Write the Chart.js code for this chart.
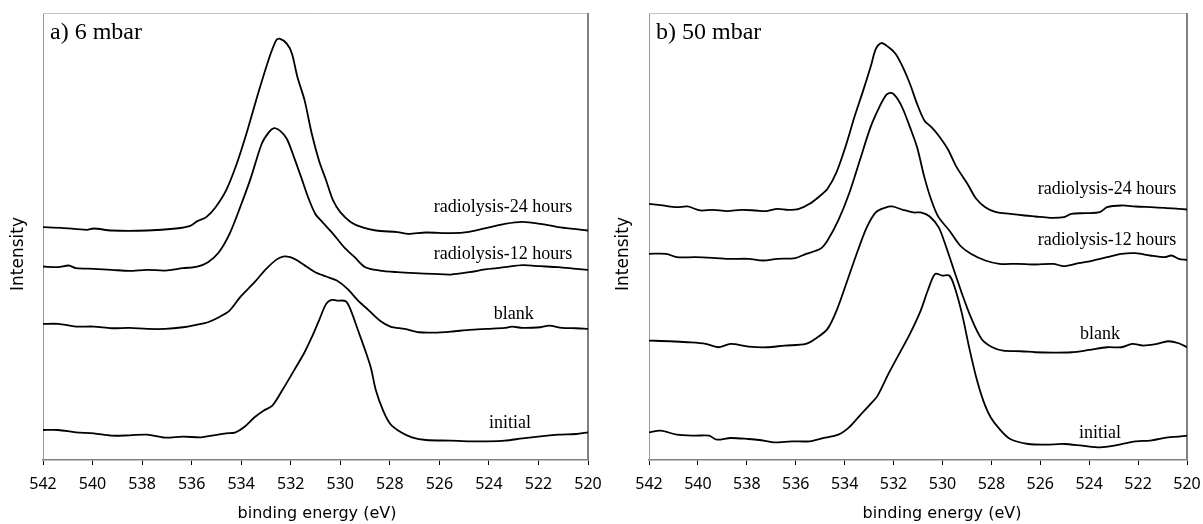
<!DOCTYPE html>
<html><head><meta charset="utf-8">
<script src="https://cdn.jsdelivr.net/npm/chart.js@4/dist/chart.umd.min.js"></script>
<style>
html,body{margin:0;padding:0;background:#fff;overflow:hidden;width:1203px;height:524px;position:relative;}
canvas{position:absolute;top:0;}
#c1{left:0px}
#c2{left:600px}
</style></head><body>
<canvas id="c1" width="620" height="524"></canvas>
<canvas id="c2" width="620" height="524"></canvas>
<script>
// ---------- tick labels (binding energy, eV) ----------
const xTickValues = [542,540,538,536,534,532,530,528,526,524,522,520];

// ---------- panel a) 6 mbar ----------
const a_rad24_eV = [542.00,541.25,540.24,539.95,539.23,537.79,536.63,536.06,535.77,535.41,535.05,534.61,534.18,533.75,533.32,532.88,532.59,532.45,532.16,531.95,531.73,531.44,531.15,530.86,530.57,530.29,530.00,529.57,529.13,528.56,527.69,527.26,526.54,525.53,524.80,524.08,523.36,522.64,521.92,521.20,520.48,520.00];
const a_rad24_I  = [698,696,690,694,688,688,694,702,716,728,756,808,888,988,1098,1203,1258,1263,1248,1218,1148,1078,978,898,838,778,743,713,698,688,683,678,682,680,684,696,708,714,708,698,692,688];

const a_rad12_eV = [542.00,541.39,540.96,540.67,539.95,539.23,538.51,537.79,537.07,536.35,535.77,535.34,534.90,534.47,534.04,533.60,533.17,532.88,532.67,532.45,532.16,531.87,531.58,531.30,531.01,530.72,530.29,529.85,529.42,528.99,528.41,527.69,526.97,526.25,525.53,524.80,524.08,523.36,522.64,521.92,521.20,520.48,520.00];
const a_rad12_I  = [580,578,583,575,573,570,567,570,568,575,580,593,623,678,758,848,948,983,995,988,963,908,848,788,738,713,678,638,608,578,568,563,560,558,556,563,572,578,584,581,578,573,570];

const a_blank_eV = [542.00,541.39,540.67,539.95,539.23,538.51,537.79,537.07,536.35,535.77,535.34,534.90,534.47,534.04,533.46,533.03,532.59,532.31,532.02,531.73,531.37,531.01,530.57,530.14,529.71,529.28,528.84,528.41,527.98,527.40,526.82,526.25,525.53,524.80,524.08,523.36,523.07,522.64,521.92,521.56,521.05,520.48,520.00];
const a_blank_I  = [408,408,400,400,395,396,393,393,398,406,413,428,448,488,533,570,600,610,608,598,580,563,550,538,513,478,448,418,400,393,383,382,385,390,393,396,400,396,398,403,396,395,393];

const a_init_eV = [542.00,541.39,540.67,539.95,539.23,538.51,537.79,537.07,536.35,535.62,535.19,534.61,534.25,533.89,533.46,533.10,532.74,532.31,531.87,531.44,531.15,530.86,530.57,530.36,530.14,529.78,529.57,529.28,528.99,528.77,528.56,528.27,527.98,527.55,527.11,526.54,525.53,524.80,524.08,523.36,522.64,521.92,521.20,520.48,520.00];
const a_init_I  = [90,90,83,80,73,74,76,67,70,68,73,80,82,98,128,148,163,213,268,323,368,418,468,480,478,476,448,388,328,278,208,148,108,83,68,60,58,56,56,58,65,71,76,78,83];

// ---------- panel b) 50 mbar ----------
const b_rad24_eV = [542.00,541.44,540.86,540.42,539.90,539.39,538.80,538.22,537.63,537.19,536.75,536.31,535.87,535.43,534.99,534.70,534.33,533.97,533.60,533.24,532.94,532.72,532.50,532.21,531.92,531.62,531.33,531.04,530.74,530.45,530.16,529.79,529.42,528.98,528.62,528.25,527.81,527.23,526.64,526.20,525.61,525.03,524.73,524.15,523.56,523.27,522.68,522.10,521.51,520.92,520.34,520.00];
const b_rad24_I  = [768,763,758,760,748,750,746,750,748,746,753,750,753,768,793,813,863,938,1028,1108,1178,1233,1250,1238,1218,1178,1128,1068,1018,998,973,933,878,828,783,758,743,738,733,730,726,728,738,740,743,758,763,760,758,756,753,751];

const b_rad12_eV = [542.00,541.30,540.86,540.12,539.39,538.66,537.93,537.34,536.75,536.02,535.58,534.99,534.70,534.26,533.82,533.38,532.94,532.58,532.28,532.06,531.84,531.62,531.33,531.04,530.74,530.45,530.16,529.72,529.28,528.84,528.25,527.67,526.93,526.20,525.47,525.03,524.44,523.85,523.27,522.68,522.10,521.51,520.92,520.63,520.34,520.00];
const b_rad12_I  = [618,618,608,608,606,603,603,598,603,605,618,633,658,718,798,898,998,1058,1096,1100,1083,1053,998,938,848,778,728,688,643,618,598,588,588,586,588,581,590,598,608,618,620,613,608,613,603,600];

const b_blank_eV = [542.00,541.15,540.42,539.68,539.17,538.66,537.93,537.19,536.46,535.58,535.14,534.70,534.33,533.89,533.46,533.09,532.72,532.36,532.06,531.62,531.18,530.89,530.52,530.16,529.94,529.57,529.20,528.84,528.40,527.96,527.52,526.79,526.20,525.47,524.73,524.00,523.27,522.68,522.24,521.80,521.22,520.78,520.34,520.00];
const b_blank_I  = [358,356,353,348,338,348,340,338,343,348,366,393,448,538,628,698,743,756,760,750,742,742,730,698,658,578,498,428,363,338,328,326,323,322,323,330,338,338,348,343,348,356,350,338];

const b_init_eV = [542.00,541.52,540.86,540.12,539.54,539.24,538.66,537.93,537.49,536.90,536.17,535.43,534.85,534.26,533.82,533.38,532.94,532.65,532.21,531.77,531.33,530.89,530.60,530.30,530.01,529.72,529.50,529.20,528.91,528.62,528.33,528.03,527.67,527.23,526.49,525.76,525.03,524.29,523.56,522.98,522.10,521.51,520.78,520.34,520.00];
const b_init_I  = [83,88,76,73,73,61,66,63,60,53,56,56,66,76,98,133,168,193,258,318,378,448,508,558,553,553,518,438,338,248,178,128,93,63,48,46,48,43,38,43,56,58,68,70,73];

// ---------- text ----------
const seriesNames = ['radiolysis-24 hours','radiolysis-12 hours','blank','initial'];
const a_title = 'a) 6 mbar';
const b_title = 'b) 50 mbar';
const a_labelEV = [523.43,523.43,523.00,523.15];
const a_labelI  = [758,618,438,110];
const b_labelEV = [523.27,523.27,523.56,523.56];
const b_labelI  = [813,660,378,80];
const xTitle = 'binding energy (eV)';
const yTitle = 'Intensity';

function pts(xs, ys){ return xs.map((x,i)=>({x:x, y:ys[i]})); }

const framePlugin = {
  id:'frame',
  beforeDatasetsDraw(chart){
    const {ctx, chartArea:a} = chart;
    ctx.save();
    ctx.lineWidth = 1;
    ctx.strokeStyle = '#c4c4c4';
    ctx.beginPath(); ctx.moveTo(a.left, a.top+0.5); ctx.lineTo(a.right, a.top+0.5); ctx.stroke();
    ctx.strokeStyle = '#808080';
    ctx.lineWidth = 2;
    ctx.beginPath(); ctx.moveTo(a.right, a.top); ctx.lineTo(a.right, a.bottom); ctx.stroke();
    ctx.restore();
  }
};

const textPlugin = {
  id:'panelText',
  afterDatasetsDraw(chart, args, opts){
    const {ctx, chartArea:a, scales} = chart;
    ctx.save();
    ctx.fillStyle = '#000';
    // panel title
    ctx.font = '24px "Liberation Serif"';
    ctx.textAlign = 'left';
    ctx.textBaseline = 'alphabetic';
    ctx.fillText(opts.title, a.left + 7, a.top + 26);
    // curve labels
    ctx.font = '18px "Liberation Serif"';
    ctx.textAlign = 'center';
    ctx.textBaseline = 'middle';
    opts.names.forEach((t,i)=>{
      ctx.fillText(t, scales.x.getPixelForValue(opts.ev[i]), scales.y.getPixelForValue(opts.iv[i]));
    });
    // axis titles
    ctx.font = '16px "DejaVu Sans"';
    ctx.fillText(xTitle, opts.xTitleX, 514);
    ctx.save();
    ctx.translate(opts.yTitleX, 254);
    ctx.rotate(-Math.PI/2);
    ctx.font = '17px "DejaVu Sans"';
    ctx.fillText(yTitle, 0, 0);
    ctx.restore();
    ctx.restore();
  }
};

function makePanel(id, series, yAxisWidth, title, labelEV, labelI, xTitleX, yTitleX){
  const datasets = series.map(s=>({
    data: pts(s[0], s[1]),
    borderColor:'#000', borderWidth:1.8, pointRadius:0, tension:0.3, fill:false
  }));
  return new Chart(document.getElementById(id), {
    type:'line',
    data:{datasets},
    plugins:[framePlugin, textPlugin],
    options:{
      responsive:false, animation:false, devicePixelRatio:1,
      layout:{padding:{left:0, top:13, right:620-(id==='c1'?588:587), bottom:0}},
      plugins:{legend:{display:false}, tooltip:{enabled:false},
        panelText:{title, names:seriesNames, ev:labelEV, iv:labelI, xTitleX, yTitleX}},
      scales:{
        x:{type:'linear', reverse:true, min:520, max:542,
          afterBuildTicks(scale){ scale.ticks = xTickValues.map(v=>({value:v})); },
          afterFit(scale){ scale.height = 64; },
          ticks:{autoSkip:false, maxRotation:0, padding:10, color:'#000',
            font:{family:'"Noto Sans"', size:16}},
          grid:{display:true, drawOnChartArea:false, drawTicks:true, tickLength:5, tickColor:'#000', lineWidth:1},
          border:{display:true, color:'#808080', width:1.5},
          title:{display:false}
        },
        y:{type:'linear', min:0, max:1340,
          afterFit(scale){ scale.width = yAxisWidth; },
          ticks:{display:false},
          grid:{display:false},
          border:{display:true, color:'#999', width:1},
          title:{display:false}
        }
      }
    }
  });
}

makePanel('c1', [[a_rad24_eV,a_rad24_I],[a_rad12_eV,a_rad12_I],[a_blank_eV,a_blank_I],[a_init_eV,a_init_I]], 43, a_title, a_labelEV, a_labelI, 317, 19);
makePanel('c2', [[b_rad24_eV,b_rad24_I],[b_rad12_eV,b_rad12_I],[b_blank_eV,b_blank_I],[b_init_eV,b_init_I]], 49, b_title, b_labelEV, b_labelI, 342, 24);
</script>
</body></html>
